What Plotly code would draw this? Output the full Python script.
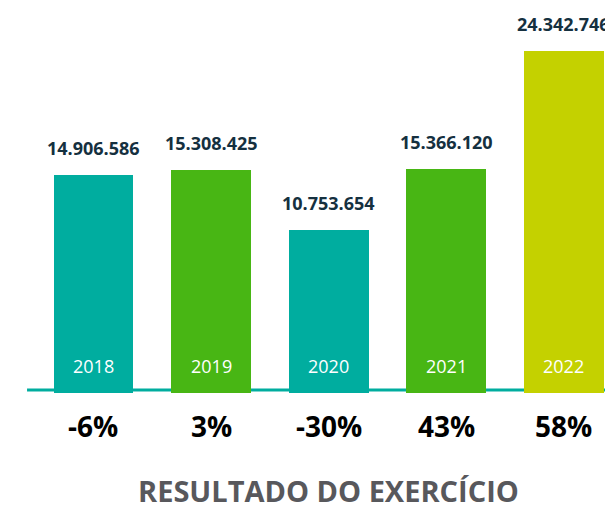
import plotly.graph_objects as go

# dados do gráfico
anos = ["2018", "2019", "2020", "2021", "2022"]
resultado = [14906586, 15308425, 10753654, 15366120, 24342746]
variacao = ["-6%", "3%", "-30%", "43%", "58%"]
cores = ["#00ad9f", "#48b614", "#00ad9f", "#48b614", "#c4d100"]

BASE = -1.625e6  # barras começam um pouco abaixo da linha
Y_TOP = 28.215e6
FONT = "Open Sans"


def fmt(v):
    return f"{v:,}".replace(",", ".")


x_pos = list(range(len(anos)))

fig = go.Figure()

fig.add_trace(
    go.Bar(
        x=x_pos,
        y=[v - BASE for v in resultado],
        base=BASE,
        width=0.68,
        marker=dict(color=cores, line=dict(width=0)),
        hoverinfo="skip",
        showlegend=False,
    )
)

# linha de base
fig.add_shape(
    type="line",
    xref="x", yref="paper",
    x0=-0.565, x1=4.5, y0=3 / 393, y1=3 / 393,
    line=dict(color="#00ad9f", width=3),
    layer="below",
)

annotations = []
for i, (ano, v, p) in enumerate(zip(anos, resultado, variacao)):
    # valor acima da barra
    annotations.append(dict(
        x=i, y=v, xref="x", yref="y",
        text=f"<b>{fmt(v)}</b>", showarrow=False,
        yanchor="bottom", yshift=13,
        font=dict(family=FONT, size=18, color="#15303f"),
    ))
    # ano dentro da barra
    annotations.append(dict(
        x=i, y=0, xref="x", yref="paper",
        text=ano, showarrow=False,
        yanchor="middle", yshift=27,
        font=dict(family=FONT, size=18, color="white"),
    ))
    # variação abaixo
    annotations.append(dict(
        x=i, y=0, xref="x", yref="paper",
        text=f"<b>{p}</b>", showarrow=False,
        yanchor="middle", yshift=-33,
        font=dict(family=FONT, size=28, color="black"),
    ))

annotations.append(dict(
    x=2, y=0, xref="x", yref="paper",
    text="<b>RESULTADO DO EXERCÍCIO</b>", showarrow=False,
    yanchor="middle", yshift=-97,
    font=dict(family=FONT, size=29, color="#58585c"),
))

fig.update_layout(
    width=605,
    height=507,
    margin=dict(l=0, r=0, t=0, b=114),
    paper_bgcolor="white",
    plot_bgcolor="white",
    xaxis=dict(range=[-0.795, 4.35], visible=False, fixedrange=True),
    yaxis=dict(range=[BASE, Y_TOP], visible=False, fixedrange=True),
    annotations=annotations,
    bargap=0,
)

fig.write_html(
    "out.html",
    config=dict(displayModeBar=False),
    post_script="document.body.style.margin='0';document.body.style.overflow='hidden';",
)
